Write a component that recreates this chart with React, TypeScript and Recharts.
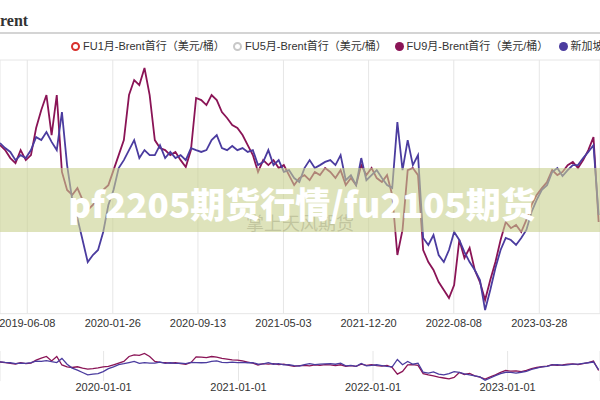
import React from "react";
import { LineChart, Line, XAxis, YAxis, CartesianGrid } from "recharts";

const DAY = 86400000;
const startDate = Date.UTC(2019, 2, 26);
const stepDays = 14;

// FU9月-Brent首行, one reading every two weeks
const fu9Spread = [
  16.1, 13.9, 10.4, 8.2, 13.9, 9.5, 11.7, 23.6, 31.5, 38.1,
  20.5, 38.1, 4.3, -3.6, -5.8, -2.8, -8.0, -12.4, -10.2, -7.2,
  -3.6, -1.5, 5.1, 11.7, 18.3, 38.1, 44.7, 42.5, 50.0, 38.1,
  18.3, 14.8, 13.9, 11.7, 13.1, 9.5, 6.5, 13.9, 36.8, 35.9,
  33.7, 38.1, 35.9, 30.6, 28.0, 24.9, 23.6, 20.5, 16.1, 11.7,
  4.3, 9.5, 7.3, 9.5, 6.0, 7.3, 2.9, -1.5, 1.6, 2.9,
  0.7, 4.3, 2.9, 6.0, 4.3, 1.6, 5.1, -1.5, 1.6, -1.5,
  7.3, 2.9, 6.0, 1.6, -0.1, 2.9, -5.8, -32.2, -21.2, 5.1,
  6.0, 2.9, -30.0, -35.3, -38.8, -44.1, -47.6, -51.1, -45.4, -25.6,
  -33.5, -29.1, -38.8, -44.1, -52.0, -43.2, -35.3, -25.6, -17.7, -20.4,
  -19.0, -22.1, -16.8, -10.2, -5.8, -2.8, -0.1, 5.1, 2.9, 4.3,
  7.3, 8.7, 6.0, 9.5, 13.9, 19.6, -17.7,
];

// 新加坡380-Brent
const sgSpread = [
  17.0, 14.8, 13.1, 9.5, 11.7, 10.4, 13.9, 19.6, 18.3, 21.8,
  17.5, 13.9, 30.6, 7.3, -8.0, -16.0, -25.6, -35.3, -32.2, -30.0,
  -22.1, -10.2, -3.6, 6.0, 9.5, 13.9, 18.3, 10.4, 13.9, 11.7,
  11.7, 16.1, 10.4, 13.1, 10.4, 11.7, 9.5, 14.8, 13.9, 13.1,
  13.9, 18.3, 20.5, 14.8, 13.9, 15.7, 13.9, 14.8, 13.1, 13.9,
  7.3, 8.7, 13.9, 7.3, 9.5, 4.3, 5.1, 1.6, -0.1, 6.0,
  9.5, 6.0, 7.3, 8.7, 9.5, 7.3, 11.7, 0.7, 2.9, -1.5,
  10.4, 0.7, 2.9, 5.1, 1.6, -1.5, -2.8, 26.2, 5.1, 18.3,
  7.3, 11.7, -24.7, -27.8, -23.4, -32.2, -35.3, -30.0, -22.1, -25.6,
  -30.9, -35.3, -38.8, -43.2, -56.4, -47.6, -37.9, -30.0, -24.7, -25.6,
  -27.8, -24.7, -21.2, -13.3, -8.0, -3.6, -1.5, 4.3, 6.0, 2.5,
  5.1, 7.3, 7.3, 10.4, 13.1, 16.1, -14.6,
];

const mainTickDates = ["2019-06-08", "2020-01-26", "2020-09-13", "2021-05-03", "2021-12-20", "2022-08-08", "2023-03-28"];
const navTickDates = ["2020-01-01", "2021-01-01", "2022-01-01", "2023-01-01"];
const yTicks = [-40, -20, 0, 20, 40];

const legendNames = [
  "FU1月-Brent首行（美元/桶）",
  "FU5月-Brent首行（美元/桶）",
  "FU9月-Brent首行（美元/桶）",
  "新加坡380-Brent首行（美元/桶）",
];

const titleText = "Brent";
const watermarkText = "pf2205期货行情/fu2105期货";
const watermarkSub = "掌上天风期货";

const toTs = (s: string) => Date.parse(s + "T00:00:00Z");
const fmtDate = (t: number) => new Date(t).toISOString().slice(0, 10);

const data = fu9Spread.map((v, i) => ({ t: startDate + i * stepDays * DAY, fu9: v, sg: sgSpread[i] }));
const xDomain = [startDate, toTs("2023-09-08") + 0.7 * DAY];
const mainTicks = mainTickDates.map(toTs);
const navTicks = navTickDates.map(toTs);

const MAROON = "#8a1456";
const PURPLE = "#4b3c9f";
const SANS = '"Liberation Sans", Arial, "Noto Sans CJK SC", sans-serif';

const legendStyle = [
  { cx: 75.5, hollow: true, color: "#d8302c" },
  { cx: 237.5, hollow: true, color: "#c8c8c8" },
  { cx: 399, hollow: false, color: MAROON },
  { cx: 563, hollow: false, color: PURPLE },
];

export default function App() {
  return (
    <div style={{ position: "absolute", left: 0, top: 0, width: 600, height: 400, overflow: "hidden", background: "#fff", fontFamily: SANS }}>
      <div style={{ position: "absolute", left: -10.7, top: 11, fontFamily: '"Liberation Serif", serif', fontWeight: 700, fontSize: 16, lineHeight: "20px", color: "#333" }}>
        {titleText}
      </div>
      <div style={{ position: "absolute", left: 0, top: 32, width: 600, height: 2, background: "#d4d4d4" }} />

      {legendNames.map((name, i) => {
        const s = legendStyle[i];
        return (
          <React.Fragment key={name}>
            <div
              style={{
                position: "absolute", left: s.cx - 4.5, top: 42, width: 9, height: 9, borderRadius: "50%", boxSizing: "border-box",
                background: s.hollow ? "#fff" : s.color, border: s.hollow ? `2px solid ${s.color}` : "none",
              }}
            />
            <div style={{ position: "absolute", left: s.cx + 7.5, top: 39, fontSize: 11, lineHeight: "15px", color: "#333", whiteSpace: "nowrap" }}>
              {name}
            </div>
          </React.Fragment>
        );
      })}

      <div style={{ position: "absolute", left: 0, top: 0 }}>
        <LineChart width={600} height={335} data={data} margin={{ top: 60, right: 0, bottom: 0, left: 0 }}>
          <CartesianGrid stroke="#e6e6e6" />
          <XAxis
            dataKey="t" type="number" domain={xDomain} ticks={mainTicks} tickFormatter={fmtDate} interval={0}
            axisLine={false} tickLine={false} tickSize={0} tickMargin={5} height={21.3} allowDataOverflow
            tick={{ fill: "#333", fontSize: 11, fontFamily: SANS }}
          />
          <YAxis width={0} domain={[-58, 53.5]} ticks={yTicks} tick={false} axisLine={false} tickLine={false} allowDataOverflow />
          <Line type="linear" dataKey="fu9" stroke={MAROON} strokeWidth={1.8} dot={false} isAnimationActive={false} />
          <Line type="linear" dataKey="sg" stroke={PURPLE} strokeWidth={1.8} dot={false} isAnimationActive={false} />
        </LineChart>
      </div>

      <div style={{ position: "absolute", left: 0, top: 340 }}>
        <LineChart width={600} height={60} data={data} margin={{ top: 11, right: 0, bottom: 0, left: 0 }}>
          <CartesianGrid stroke="#e6e6e6" horizontal={false} />
          <XAxis
            dataKey="t" type="number" domain={xDomain} ticks={navTicks} tickFormatter={fmtDate} interval={0}
            axisLine={false} tickLine={false} tickSize={0} tickMargin={2} height={18.9} allowDataOverflow
            tick={{ fill: "#333", fontSize: 11, fontFamily: SANS }}
          />
          <YAxis width={0} domain={[-60, 60]} tick={false} axisLine={false} tickLine={false} allowDataOverflow />
          <Line type="linear" dataKey="fu9" stroke={MAROON} strokeWidth={1.3} dot={false} isAnimationActive={false} />
          <Line type="linear" dataKey="sg" stroke={PURPLE} strokeWidth={1.3} dot={false} isAnimationActive={false} />
        </LineChart>
      </div>

      <div style={{ position: "absolute", left: 0, top: 168, width: 600, height: 64, background: "rgba(200,208,142,0.6)" }}>
        <div style={{ position: "absolute", left: 0, top: 43, width: 600, textAlign: "center", fontFamily: '"Noto Sans CJK SC", sans-serif', fontSize: 18, lineHeight: "22px", color: "rgba(140,140,105,0.35)" }}>
          {watermarkSub}
        </div>
        <div style={{ position: "absolute", left: 2, top: 13, width: 600, textAlign: "center", fontFamily: '"Noto Sans CJK SC", sans-serif', fontWeight: 900, fontSize: 35, lineHeight: "44px", color: "#fff" }}>
          {watermarkText}
        </div>
      </div>
    </div>
  );
}
